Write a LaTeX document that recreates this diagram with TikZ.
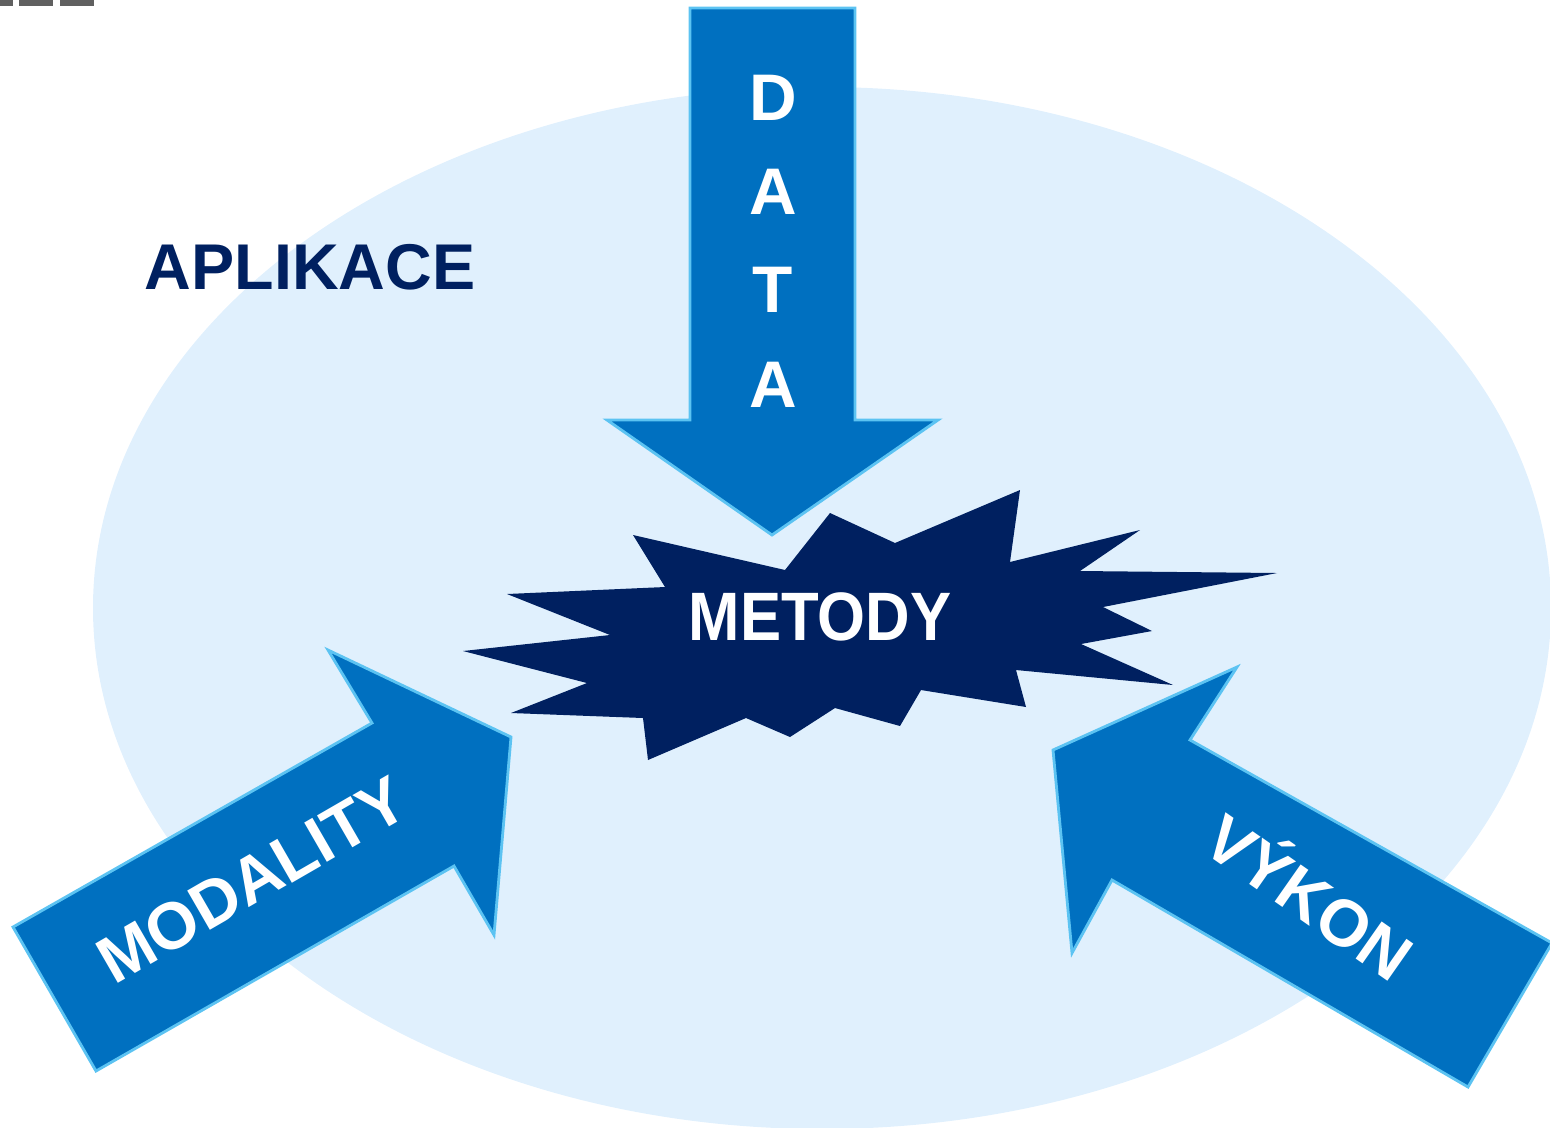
\documentclass[tikz,border=0pt]{standalone}
\usepackage{fontspec}
\setmainfont{Liberation Sans}
\definecolor{bgblue}{HTML}{E0F0FD}
\definecolor{arrowblue}{HTML}{0070C0}
\definecolor{bevelblue}{HTML}{5CC3F2}
\definecolor{navy}{HTML}{002060}
\definecolor{markgray}{HTML}{606060}

\begin{document}
\begin{tikzpicture}[x=0.02cm, y=0.02cm]
        % styles
        \tikzstyle{arrowshape}=[fill=arrowblue, draw=bevelblue, line width=1.6pt, line join=miter]
        \tikzstyle{arrowtext}=[text=white, font=\bfseries\fontsize{37.5}{40}\selectfont, inner sep=0pt]
        \tikzstyle{title}=[text=navy, font=\bfseries\fontsize{36.8}{40}\selectfont, inner sep=0pt]

        % frame
        \clip (0,0) rectangle (1550,-1127);

        % background
        \fill[bgblue] (822,-608) ellipse [x radius=729, y radius=521];
        \fill[markgray] (0,0) rectangle (13,-6);
        \fill[markgray] (19,0) rectangle (53,-6);
        \fill[markgray] (60,0) rectangle (94,-6);

        % arrows
        \draw[arrowshape] (690,-8) -- (855,-8) -- (855,-420) -- (938,-420) -- (772,-535)
            -- (607,-420) -- (690,-420) -- cycle;
        \draw[arrowshape] (13,-927) -- (372,-723) -- (328,-650) -- (511,-737) -- (494,-935)
            -- (454,-866) -- (96,-1071) -- cycle;
        \draw[arrowshape] (1237,-667) -- (1190,-740) -- (1552,-943) -- (1468,-1087)
            -- (1112,-880) -- (1072,-953) -- (1053,-750) -- cycle;

        % star
        \fill[navy] (633,-535) -- (785,-570) -- (830,-513) -- (895,-543) -- (1020,-490)
            -- (1010,-562) -- (1140,-530) -- (1080,-571) -- (1277,-573) -- (1103,-607)
            -- (1152,-631) -- (1081,-644) -- (1173,-685) -- (1016,-670) -- (1026,-707)
            -- (921,-690) -- (900,-726) -- (835,-708) -- (790,-737) -- (746,-718)
            -- (648,-760) -- (643,-718) -- (511,-713) -- (587,-683) -- (463,-651)
            -- (610,-635) -- (507,-594) -- (665,-587) -- cycle;

        % labels
        \node[title] (aplikace) at (310,-267) {APLIKACE};
        \node[arrowtext] (d1) at (773,-98) {D};
        \node[arrowtext] (a1) at (773,-192) {A};
        \node[arrowtext] (t1) at (773,-290) {T};
        \node[arrowtext] (a2) at (773,-385) {A};
        \node[arrowtext, rotate=30] (modality) at (252,-880) {MODALITY};
        \node[arrowtext, rotate=-35] (vykon) at (1312,-893) {VÝKON};
        \node[arrowtext, font=\bfseries\fontsize{39}{42}\selectfont, xscale=0.9] (metody) at (820,-617) {METODY};
    \end{tikzpicture}
\end{document}
